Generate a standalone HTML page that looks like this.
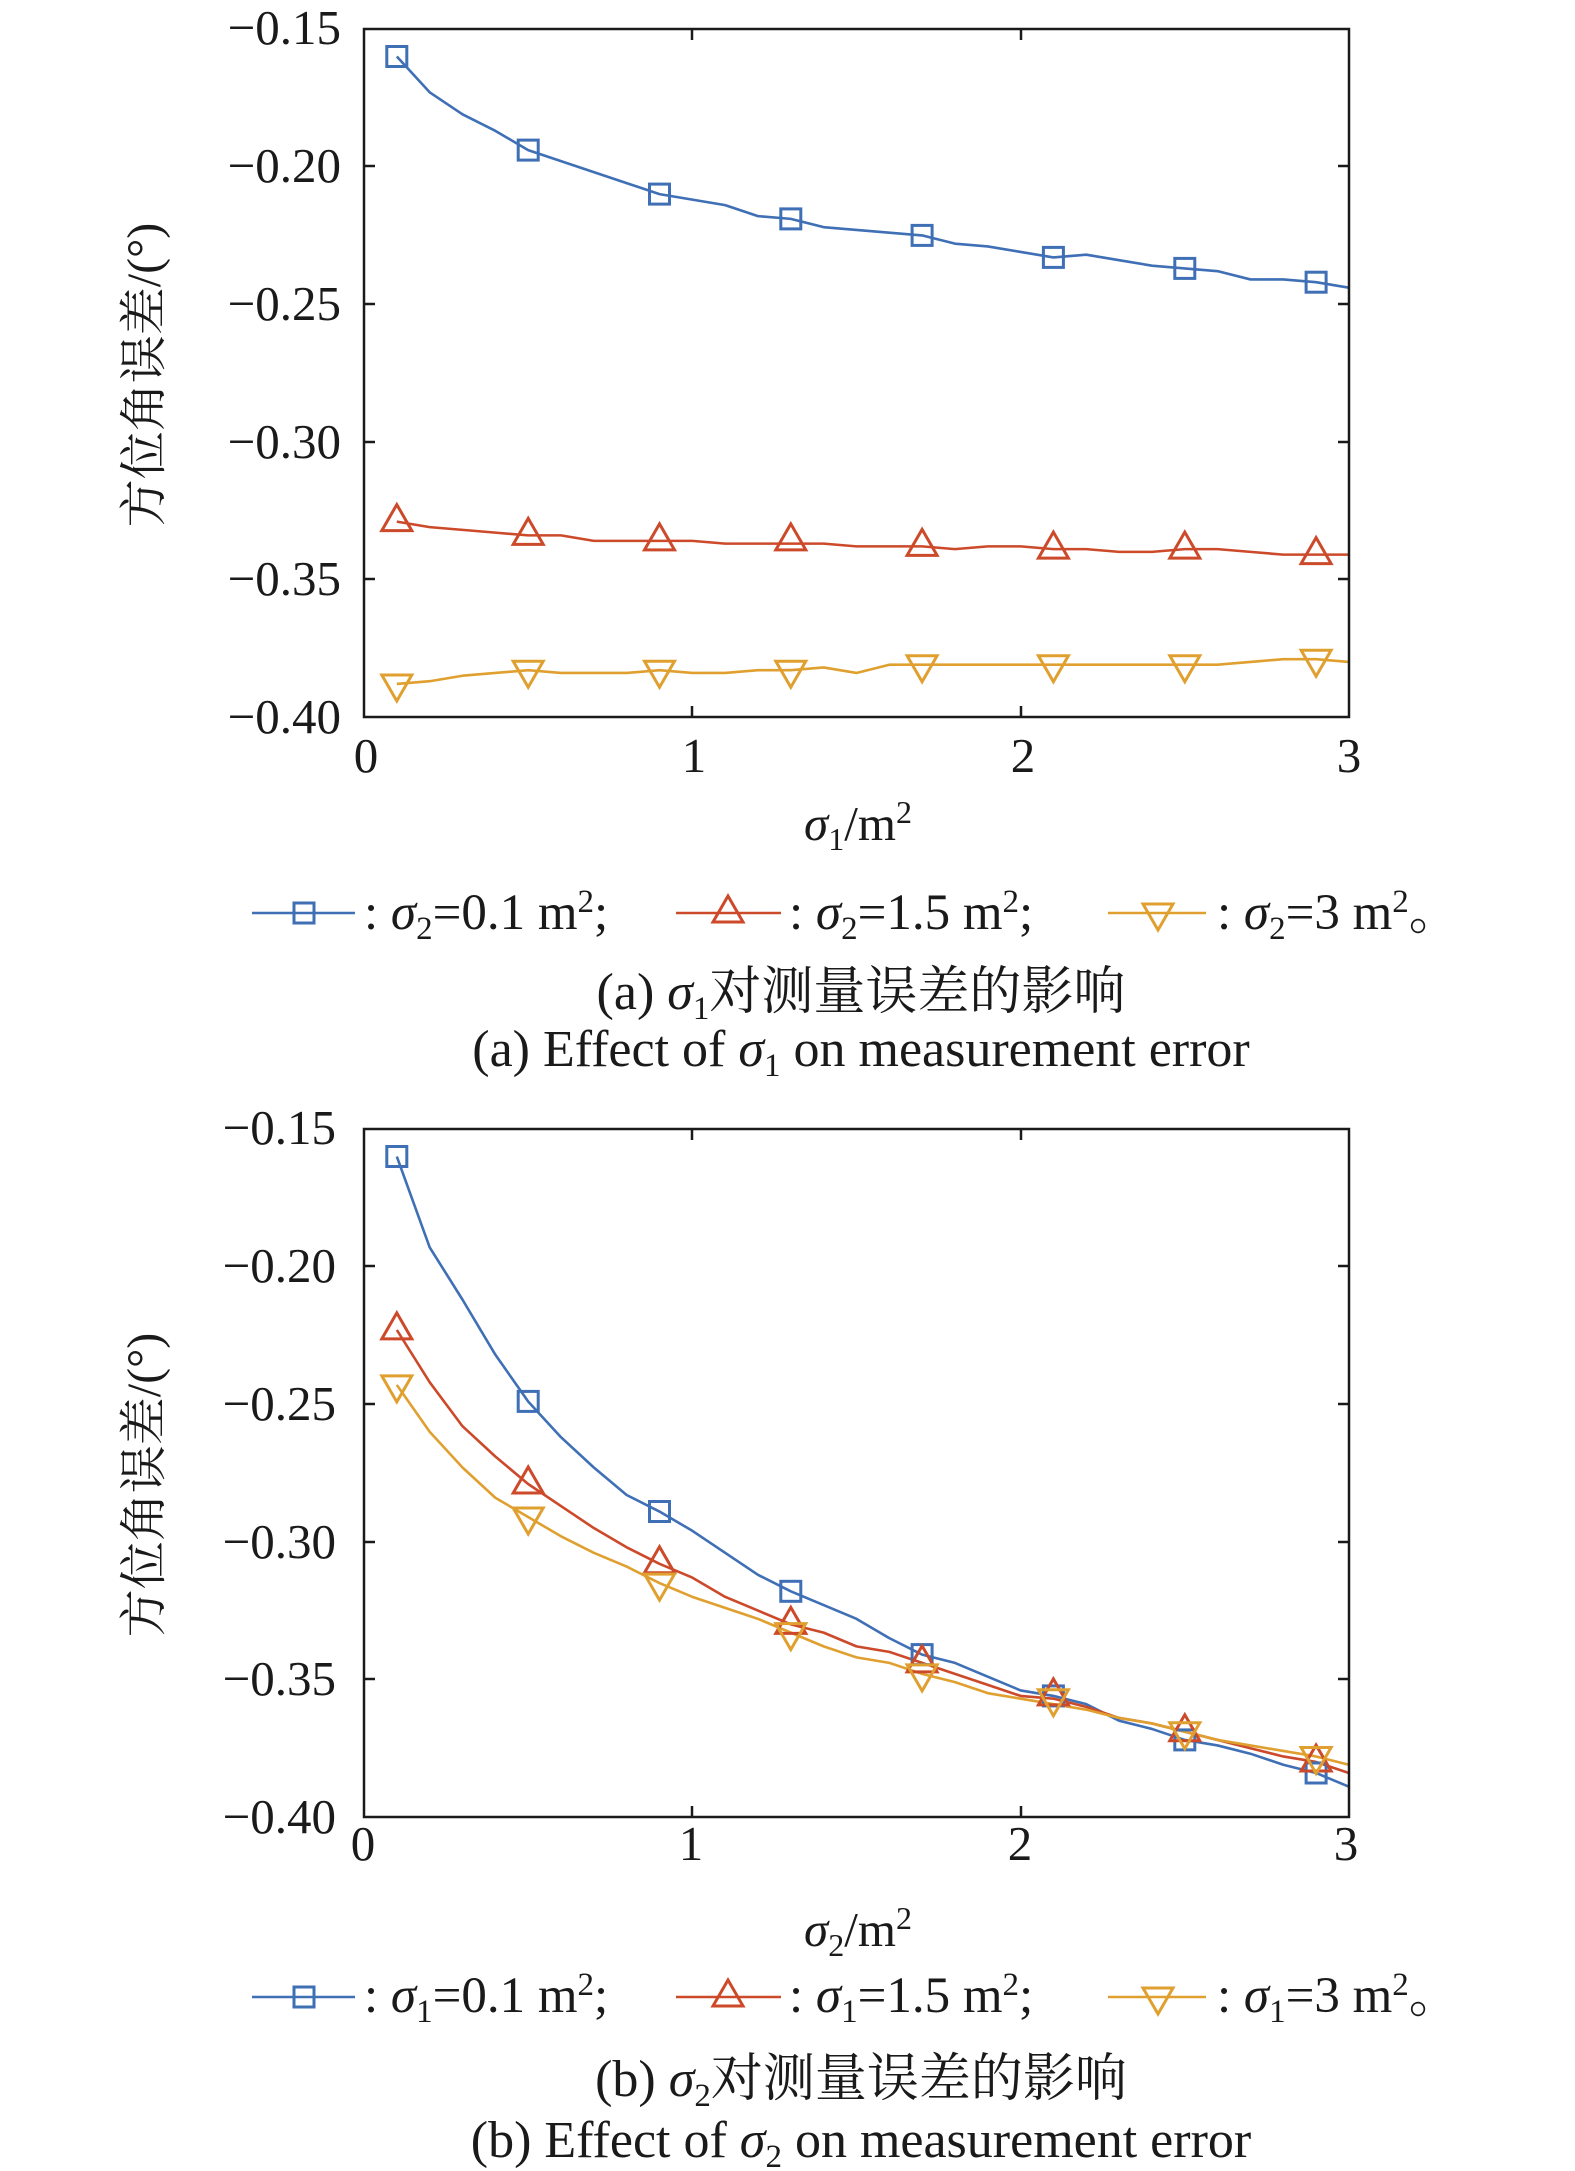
<!DOCTYPE html>
<html><head><meta charset="utf-8"><style>
html,body{margin:0;padding:0;background:#fff}
svg{display:block}
text{font-family:"Liberation Serif","Noto Serif CJK SC",serif;fill:#1a1a1a}
.cj{font-family:"Liberation Serif","Noto Serif CJK SC",serif}
</style></head><body>
<svg width="1575" height="2171" viewBox="0 0 1575 2171" xmlns="http://www.w3.org/2000/svg">
<defs>
<g id="sq"><rect x="-10" y="-10" width="20" height="20" fill="none" stroke="#3f6fb5" stroke-width="3"/></g>
<g id="tu"><polygon points="0,-17 -15,9 15,9" fill="none" stroke="#cc4a2a" stroke-width="3"/></g>
<g id="td"><polygon points="-15,-9 15,-9 0,17" fill="none" stroke="#e0a030" stroke-width="3"/></g>
</defs>

<!-- ===== Panel A ===== -->
<g fill="none" stroke-width="2.6" stroke-linejoin="round">
<g transform="matrix(32.83,0,0,2.752,364,-383.8)">
<polyline vector-effect="non-scaling-stroke" stroke="#3f6fb5" points="1,160 2,173 3,181 4,187 5,194 6,198 7,202 8,206 9,210 10,212 11,214 12,218 13,219 14,222 15,223 16,224 17,225 18,228 19,229 20,231 21,233 22,232 23,234 24,236 25,237 26,238 27,241 28,241 29,242 30,244"/>
<polyline vector-effect="non-scaling-stroke" stroke="#cc4a2a" points="1,329 2,331 3,332 4,333 5,334 6,334 7,336 8,336 9,336 10,336 11,337 12,337 13,337 14,337 15,338 16,338 17,338 18,339 19,338 20,338 21,339 22,339 23,340 24,340 25,339 26,339 27,340 28,341 29,341 30,341"/>
<polyline vector-effect="non-scaling-stroke" stroke="#e0a030" points="1,388 2,387 3,385 4,384 5,383 6,384 7,384 8,384 9,383 10,384 11,384 12,383 13,383 14,382 15,384 16,381 17,381 18,381 19,381 20,381 21,381 22,381 23,381 24,381 25,381 26,381 27,380 28,379 29,379 30,380"/>
</g>
</g>
<use href="#sq" x="396.8" y="56.5"/><use href="#sq" x="528.2" y="150.1"/><use href="#sq" x="659.5" y="194.1"/><use href="#sq" x="790.8" y="218.9"/><use href="#sq" x="922.1" y="235.4"/><use href="#sq" x="1053.4" y="257.4"/><use href="#sq" x="1184.8" y="268.4"/><use href="#sq" x="1316.1" y="282.2"/>
<use href="#tu" x="396.8" y="521.6"/><use href="#tu" x="528.2" y="535.4"/><use href="#tu" x="659.5" y="540.9"/><use href="#tu" x="790.8" y="540.9"/><use href="#tu" x="922.1" y="546.4"/><use href="#tu" x="1053.4" y="549.1"/><use href="#tu" x="1184.8" y="549.1"/><use href="#tu" x="1316.1" y="554.6"/>
<use href="#td" x="396.8" y="684"/><use href="#td" x="528.2" y="670.2"/><use href="#td" x="659.5" y="670.2"/><use href="#td" x="790.8" y="670.2"/><use href="#td" x="922.1" y="664.7"/><use href="#td" x="1053.4" y="664.7"/><use href="#td" x="1184.8" y="664.7"/><use href="#td" x="1316.1" y="659.2"/>
<rect x="364" y="29" width="985" height="688" fill="none" stroke="#1a1a1a" stroke-width="2.5"/>
<g stroke="#1a1a1a" stroke-width="2.5">
<line x1="364" y1="166" x2="375" y2="166"/><line x1="364" y1="304" x2="375" y2="304"/><line x1="364" y1="442" x2="375" y2="442"/><line x1="364" y1="579" x2="375" y2="579"/>
<line x1="1349" y1="166" x2="1338" y2="166"/><line x1="1349" y1="304" x2="1338" y2="304"/><line x1="1349" y1="442" x2="1338" y2="442"/><line x1="1349" y1="579" x2="1338" y2="579"/>
<line x1="692" y1="717" x2="692" y2="706"/><line x1="1021" y1="717" x2="1021" y2="706"/>
<line x1="692" y1="29" x2="692" y2="40"/><line x1="1021" y1="29" x2="1021" y2="40"/>
</g>
<g font-size="49" text-anchor="end">
<text x="341" y="44">−0.15</text><text x="341" y="182">−0.20</text><text x="341" y="320">−0.25</text><text x="341" y="458">−0.30</text><text x="341" y="595">−0.35</text><text x="341" y="733">−0.40</text>
</g>
<g font-size="49" text-anchor="middle">
<text x="366" y="772">0</text><text x="694" y="772">1</text><text x="1023" y="772">2</text><text x="1349" y="772">3</text>
</g>
<text class="cj" font-size="48" text-anchor="middle" transform="translate(160,375) rotate(-90)">方位角误差/(°)</text>
<text font-size="49" text-anchor="middle" x="858" y="840"><tspan font-style="italic">σ</tspan><tspan font-size="32" dy="10">1</tspan><tspan dy="-10">/m</tspan><tspan font-size="32" dy="-17">2</tspan></text>
<!-- legend A -->
<line x1="252" y1="913" x2="355" y2="913" stroke="#3f6fb5" stroke-width="2.6"/><use href="#sq" x="304" y="913"/>
<line x1="676" y1="913" x2="781" y2="913" stroke="#cc4a2a" stroke-width="2.6"/><use href="#tu" x="728" y="913"/>
<line x1="1108" y1="913" x2="1206" y2="913" stroke="#e0a030" stroke-width="2.6"/><use href="#td" x="1158" y="913"/>
<g font-size="51">
<text x="364" y="929">: <tspan font-style="italic">σ</tspan><tspan font-size="33" dy="10">2</tspan><tspan dy="-10">=0.1 m</tspan><tspan font-size="33" dy="-17">2</tspan><tspan dy="17">;</tspan></text>
<text x="789" y="929">: <tspan font-style="italic">σ</tspan><tspan font-size="33" dy="10">2</tspan><tspan dy="-10">=1.5 m</tspan><tspan font-size="33" dy="-17">2</tspan><tspan dy="17">;</tspan></text>
<text x="1217" y="929" class="cj">: <tspan font-style="italic">σ</tspan><tspan font-size="33" dy="10">2</tspan><tspan dy="-10">=3 m</tspan><tspan font-size="33" dy="-17">2</tspan><tspan dy="17">。</tspan></text>
</g>
<text class="cj" font-size="52" text-anchor="middle" x="861" y="1009">(a) <tspan font-style="italic">σ</tspan><tspan font-size="33" dy="10">1</tspan><tspan dy="-10">对测量误差的影响</tspan></text>
<text font-size="52" text-anchor="middle" x="861" y="1066">(a) Effect of <tspan font-style="italic">σ</tspan><tspan font-size="33" dy="10">1</tspan><tspan dy="-10"> on measurement error</tspan></text>

<!-- ===== Panel B ===== -->
<g fill="none" stroke-width="2.6" stroke-linejoin="round">
<g transform="matrix(32.83,0,0,2.752,364,716.2)">
<polyline vector-effect="non-scaling-stroke" stroke="#3f6fb5" points="1,160 2,193 3,212 4,232 5,249 6,262 7,273 8,283 9,289 10,296 11,304 12,312 13,318 14,323 15,328 16,335 17,341 18,344 19,349 20,354 21,356 22,359 23,365 24,368 25,372 26,374 27,377 28,381 29,384 30,389"/>
<polyline vector-effect="non-scaling-stroke" stroke="#cc4a2a" points="1,223 2,242 3,258 4,269 5,279 6,287 7,295 8,302 9,308 10,313 11,320 12,325 13,330 14,333 15,338 16,340 17,344 18,348 19,352 20,356 21,357 22,360 23,364 24,366 25,369 26,372 27,375 28,378 29,380 30,384"/>
<polyline vector-effect="non-scaling-stroke" stroke="#e0a030" points="1,243 2,260 3,273 4,284 5,291 6,298 7,304 8,309 9,315 10,320 11,324 12,328 13,333 14,338 15,342 16,344 17,348 18,351 19,355 20,357 21,359 22,361 23,364 24,366 25,369 26,372 27,374 28,376 29,378 30,381"/>
</g>
</g>
<use href="#sq" x="396.8" y="1156.5"/><use href="#sq" x="528.2" y="1401.4"/><use href="#sq" x="659.5" y="1511.5"/><use href="#sq" x="790.8" y="1591.3"/><use href="#sq" x="922.1" y="1654.6"/><use href="#sq" x="1053.4" y="1695.9"/><use href="#sq" x="1184.8" y="1739.9"/><use href="#sq" x="1316.1" y="1773"/>
<use href="#tu" x="396.8" y="1329.9"/><use href="#tu" x="528.2" y="1484"/><use href="#tu" x="659.5" y="1563.8"/><use href="#tu" x="790.8" y="1624.4"/><use href="#tu" x="922.1" y="1662.9"/><use href="#tu" x="1053.4" y="1695.9"/><use href="#tu" x="1184.8" y="1731.7"/><use href="#tu" x="1316.1" y="1762"/>
<use href="#td" x="396.8" y="1384.9"/><use href="#td" x="528.2" y="1517"/><use href="#td" x="659.5" y="1583.1"/><use href="#td" x="790.8" y="1632.6"/><use href="#td" x="922.1" y="1673.9"/><use href="#td" x="1053.4" y="1698.7"/><use href="#td" x="1184.8" y="1731.7"/><use href="#td" x="1316.1" y="1756.5"/>
<rect x="364" y="1129" width="985" height="688" fill="none" stroke="#1a1a1a" stroke-width="2.5"/>
<g stroke="#1a1a1a" stroke-width="2.5">
<line x1="364" y1="1266" x2="375" y2="1266"/><line x1="364" y1="1404" x2="375" y2="1404"/><line x1="364" y1="1542" x2="375" y2="1542"/><line x1="364" y1="1679" x2="375" y2="1679"/>
<line x1="1349" y1="1266" x2="1338" y2="1266"/><line x1="1349" y1="1404" x2="1338" y2="1404"/><line x1="1349" y1="1542" x2="1338" y2="1542"/><line x1="1349" y1="1679" x2="1338" y2="1679"/>
<line x1="692" y1="1817" x2="692" y2="1806"/><line x1="1021" y1="1817" x2="1021" y2="1806"/>
<line x1="692" y1="1129" x2="692" y2="1140"/><line x1="1021" y1="1129" x2="1021" y2="1140"/>
</g>
<g font-size="49" text-anchor="end">
<text x="336" y="1144">−0.15</text><text x="336" y="1282">−0.20</text><text x="336" y="1420">−0.25</text><text x="336" y="1558">−0.30</text><text x="336" y="1695">−0.35</text><text x="336" y="1833">−0.40</text>
</g>
<g font-size="49" text-anchor="middle">
<text x="363" y="1860">0</text><text x="691" y="1860">1</text><text x="1020" y="1860">2</text><text x="1346" y="1860">3</text>
</g>
<text class="cj" font-size="48" text-anchor="middle" transform="translate(160,1485) rotate(-90)">方位角误差/(°)</text>
<text font-size="49" text-anchor="middle" x="858" y="1946"><tspan font-style="italic">σ</tspan><tspan font-size="32" dy="10">2</tspan><tspan dy="-10">/m</tspan><tspan font-size="32" dy="-17">2</tspan></text>
<!-- legend B -->
<line x1="252" y1="1997" x2="355" y2="1997" stroke="#3f6fb5" stroke-width="2.6"/><use href="#sq" x="304" y="1997"/>
<line x1="676" y1="1997" x2="781" y2="1997" stroke="#cc4a2a" stroke-width="2.6"/><use href="#tu" x="728" y="1997"/>
<line x1="1108" y1="1997" x2="1206" y2="1997" stroke="#e0a030" stroke-width="2.6"/><use href="#td" x="1158" y="1997"/>
<g font-size="51">
<text x="364" y="2012">: <tspan font-style="italic">σ</tspan><tspan font-size="33" dy="10">1</tspan><tspan dy="-10">=0.1 m</tspan><tspan font-size="33" dy="-17">2</tspan><tspan dy="17">;</tspan></text>
<text x="789" y="2012">: <tspan font-style="italic">σ</tspan><tspan font-size="33" dy="10">1</tspan><tspan dy="-10">=1.5 m</tspan><tspan font-size="33" dy="-17">2</tspan><tspan dy="17">;</tspan></text>
<text x="1217" y="2012" class="cj">: <tspan font-style="italic">σ</tspan><tspan font-size="33" dy="10">1</tspan><tspan dy="-10">=3 m</tspan><tspan font-size="33" dy="-17">2</tspan><tspan dy="17">。</tspan></text>
</g>
<text class="cj" font-size="52" text-anchor="middle" x="861" y="2096">(b) <tspan font-style="italic">σ</tspan><tspan font-size="33" dy="10">2</tspan><tspan dy="-10">对测量误差的影响</tspan></text>
<text font-size="52" text-anchor="middle" x="861" y="2157">(b) Effect of <tspan font-style="italic">σ</tspan><tspan font-size="33" dy="10">2</tspan><tspan dy="-10"> on measurement error</tspan></text>
</svg>
</body></html>
